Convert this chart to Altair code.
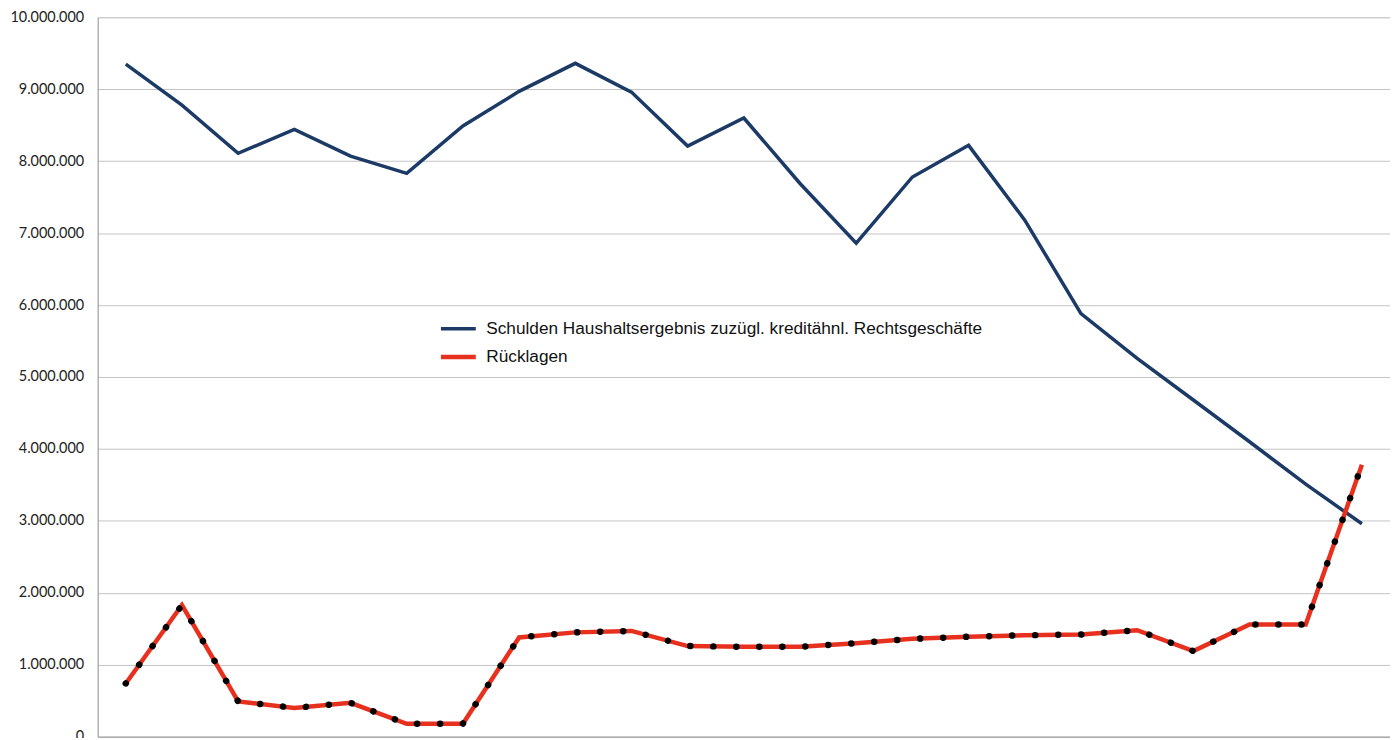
import altair as alt
import pandas as pd

# Jahre (x-Achse im Original ohne sichtbare Beschriftung)
perioden = [str(i) for i in range(1, 24)]

serien = [
    "Schulden Haushaltsergebnis zuzügl. kreditähnl. Rechtsgeschäfte",
    "Rücklagen",
]

schulden = [
    9350000, 8780000, 8110000, 8440000, 8070000, 7830000, 8490000, 8970000,
    9360000, 8960000, 8210000, 8600000, 7690000, 6860000, 7780000, 8220000,
    7180000, 5880000, 5260000, 4680000, 4100000, 3510000, 2960000,
]

ruecklagen = [
    740000, 1830000, 490000, 400000, 470000, 180000, 180000, 1380000,
    1450000, 1470000, 1260000, 1250000, 1250000, 1300000, 1360000, 1390000,
    1410000, 1420000, 1480000, 1190000, 1560000, 1560000, 3780000,
]

y_ticks = [0, 1000000, 2000000, 3000000, 4000000, 5000000, 6000000,
           7000000, 8000000, 9000000, 10000000]

rows = []
for p, v in zip(perioden, schulden):
    rows.append({"Periode": p, "Serie": serien[0], "Wert": v})
for p, v in zip(perioden, ruecklagen):
    rows.append({"Periode": p, "Serie": serien[1], "Wert": v})
df = pd.DataFrame(rows)

x_enc = alt.X(
    "Periode:O",
    sort=perioden,
    scale=alt.Scale(type="point", padding=0.5),
    axis=alt.Axis(title=None, labels=False, ticks=False, grid=False,
                  domainColor="#9a9a9a", domainWidth=1),
)
y_enc = alt.Y(
    "Wert:Q",
    scale=alt.Scale(domain=[0, 10000000], nice=False),
    axis=alt.Axis(
        title=None,
        values=y_ticks,
        ticks=False,
        labelPadding=14,
        labelFont="Lato",
        labelFontSize=14.5,
        labelColor="#222222",
        labelExpr="replace(format(datum.value, ',d'), regexp(',', 'g'), '.')",
        gridColor="#c4c4c4",
        gridWidth=1,
        domainColor="#9a9a9a",
        domainWidth=1,
    ),
)

lines = alt.Chart(df).mark_line().encode(
    x=x_enc,
    y=y_enc,
    color=alt.Color(
        "Serie:N",
        scale=alt.Scale(domain=serien, range=["#1b3a66", "#e8301e"]),
        sort=serien,
        legend=alt.Legend(
            title=None,
            orient="none",
            legendX=342,
            legendY=293,
            symbolType="stroke",
            symbolSize=1225,
            symbolStrokeWidth=4,
            labelFont="Liberation Sans",
            labelFontSize=17.3,
            labelColor="#111111",
            labelOffset=8,
            rowPadding=-10,
            padding=0,
            labelLimit=800,
        ),
    ),
    strokeWidth=alt.StrokeWidth(
        "Serie:N",
        scale=alt.Scale(domain=serien, range=[3.5, 4.5]),
        legend=None,
    ),
)

dots = alt.Chart(df).transform_filter(
    alt.datum.Serie == serien[1]
).mark_line(
    color="black", strokeWidth=6.5, strokeDash=[0.1, 23], strokeCap="round"
).encode(x=x_enc, y=y_enc)

chart = alt.layer(lines, dots).properties(
    width=1297,
    height=722,
    autosize="none",
    padding={"left": 90, "top": 8, "right": 0, "bottom": 0},
).configure_view(
    stroke="#c0c0c0", strokeWidth=1
).configure(background="white")

chart.save("out.html", embed_options={"renderer": "svg", "actions": False})
